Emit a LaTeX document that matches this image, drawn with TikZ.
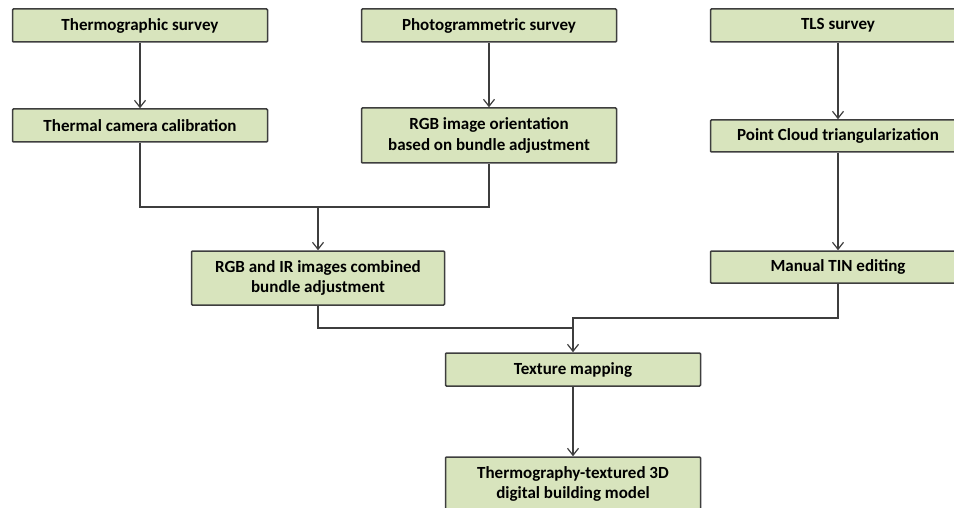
\documentclass[tikz,border=0pt]{standalone}
\usepackage{fontspec}
\setmainfont{Carlito}
\usetikzlibrary{arrows.meta}
\definecolor{boxgreen}{RGB}{216,228,189}
\definecolor{linegray}{RGB}{62,62,62}
\begin{document}
\begin{tikzpicture}[x=1pt, y=-1pt,
    box/.style={draw=linegray, line width=1.5pt, fill=boxgreen, rounded corners=1pt,
        minimum width=255pt, minimum height=33pt, inner sep=0pt, align=center,
        font=\fontsize{17}{20.5}\selectfont\bfseries},
    link/.style={draw=linegray, line width=1.3pt},
    arr/.style={link, -{Straight Barb[length=7pt, width=11pt, line width=1.2pt]}}]
\useasboundingbox (0,0) rectangle (954,508);

% --- 枠の配置 ---
\node [box] (thermo) at (140,25.5) {Thermographic survey};
\node [box] (photo) at (489,25.5) {Photogrammetric survey};
\node [box] (tls) at (838,25.5) {TLS survey};

\node [box] (calib) at (140,125.5) {Thermal camera calibration};
\node [box, minimum height=55pt] (orient) at (489,135.5) {RGB image orientation\\based on bundle adjustment};
\node [box, minimum height=32pt] (cloud) at (838,136) {Point Cloud triangularization};

\node [box, minimum width=253pt, minimum height=54pt] (combined) at (318,278) {RGB and IR images combined\\bundle adjustment};
\node [box, minimum height=32pt] (tin) at (838,267) {Manual TIN editing};

\node [box] (texture) at (573,369.5) {Texture mapping};
\node [box, minimum height=54pt] (model) at (573,484) {Thermography-textured 3D\\digital building model};

% --- 縦の矢印 ---
\foreach \a/\b in {thermo/calib, photo/orient, tls/cloud, cloud/tin, texture/model} {
    \draw [arr] (\a) -- (\b);
}

% --- 合流する線 ---
\coordinate (joinA) at (combined.north |- 0,207);
\draw [link] (calib.south) |- (joinA) -| (orient.south);
\draw [arr] (joinA) -- (combined.north);

\coordinate (joinB) at (texture.north |- 0,318);
\draw [link] (combined.south) |- (texture.north |- 0,328);
\draw [arr] (tin.south) |- (joinB) -- (texture.north);

\end{tikzpicture}
\end{document}
